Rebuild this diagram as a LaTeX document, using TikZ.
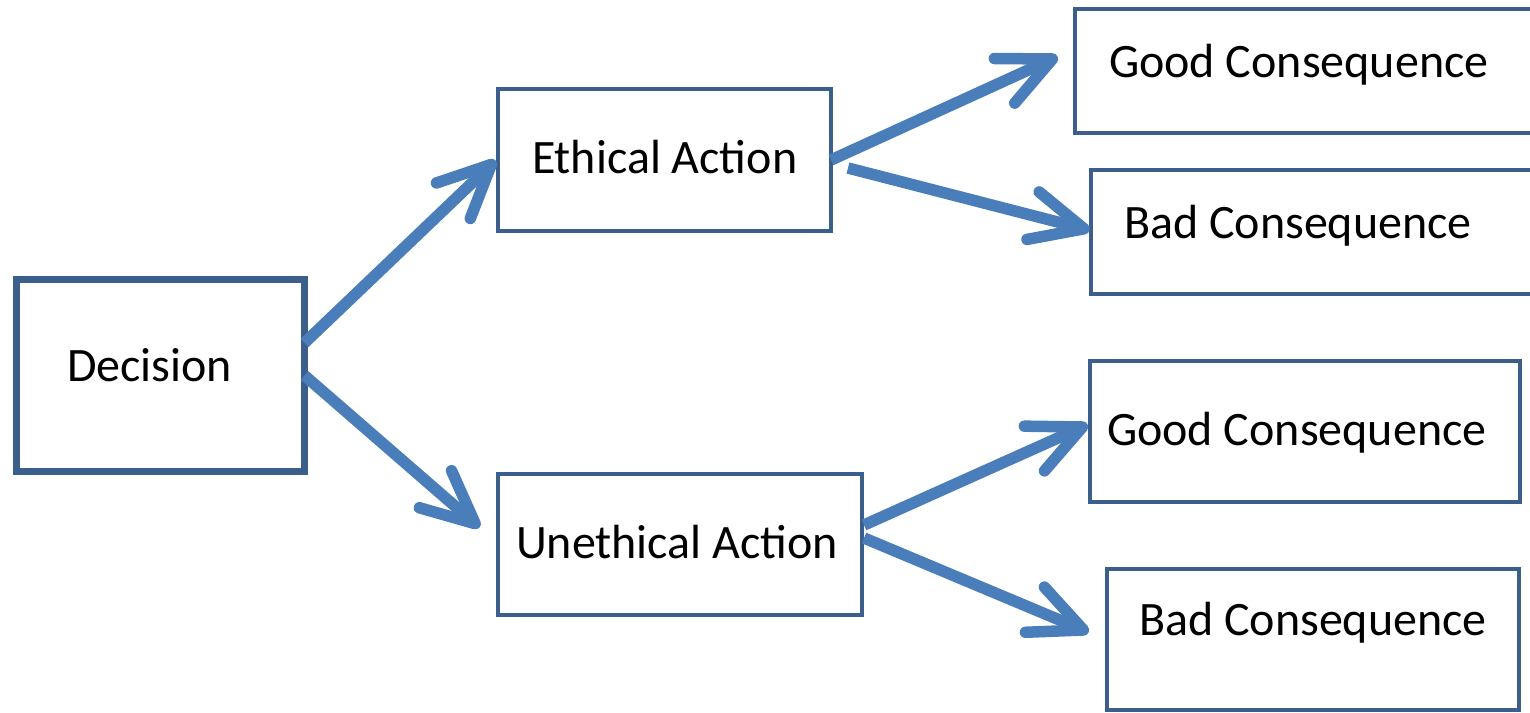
\documentclass[tikz,border=0pt]{standalone}
\usepackage{fontspec}
\setmainfont{Carlito}
\usetikzlibrary{calc}
\definecolor{boxblue}{HTML}{3B5E8C}
\definecolor{arrblue}{HTML}{4A7EBB}
\begin{document}
\begin{tikzpicture}[x=0.5pt,y=-0.5pt,
  box/.style={draw=boxblue, line width=2pt, rectangle, inner sep=0pt, outer sep=0pt, fill=white},
  lbl/.style={anchor=base west, inner sep=0pt, outer sep=0pt, font=\fontsize{24pt}{29pt}\selectfont},
  shaft/.style={draw=arrblue, line width=5.75pt, line cap=butt},
  head/.style={draw=arrblue, line width=5.75pt, line cap=round, line join=round}]
\useasboundingbox (0,0) rectangle (1530,712);
% boxes
\node[box, line width=3.5pt, minimum width=144pt, minimum height=96pt] (dec) at (160.5,375.5) {};
\node[box, minimum width=166.5pt, minimum height=71pt] (eth) at (664.5,160) {};
\node[box, minimum width=182pt, minimum height=70.5pt] (une) at (680,544.5) {};
\node[box, minimum width=232.5pt, minimum height=62pt] (good1) at (1307.5,71) {};
\node[box, minimum width=224.5pt, minimum height=62pt] (bad1) at (1315.5,232) {};
\node[box, minimum width=215pt, minimum height=70.5pt] (good2) at (1305,431.5) {};
\node[box, minimum width=206pt, minimum height=70.5pt] (bad2) at (1313,639.5) {};
% labels
\node[lbl] (tdec) at (67,381) {Decision};
\node[lbl] (teth) at (532,173) {Ethical Action};
\node[lbl] (tune) at (516,558) {Unethical Action};
\node[lbl] (tgood1) at (1109,77) {Good Consequence};
\node[lbl] (tbad1) at (1124,238) {Bad Consequence};
\node[lbl] (tgood2) at (1107,445) {Good Consequence};
\node[lbl] (tbad2) at (1139,635) {Bad Consequence};
% connector end points
\coordinate (s1) at ($(dec.north east)!0.33!(dec.south east)$);
\coordinate (t1) at ($(eth.west)+(-6.6,4.4)$);
\coordinate (s2) at (dec.east);
\coordinate (t2) at ($(une.west)+(-22.8,-20.8)$);
\coordinate (s3) at (eth.east);
\coordinate (t3) at ($(good1.west)+(-22.6,-12)$);
\coordinate (s4) at ($(eth.east)+(17,8)$);
\coordinate (t4) at ($(bad1.west)+(-7,-3.2)$);
\coordinate (s5) at ($(une.east)+(2,-19.5)$);
\coordinate (t5) at ($(good2.west)+(-7.6,-4.5)$);
\coordinate (s6) at ($(une.east)+(2,-6.5)$);
\coordinate (t6) at ($(bad2.west)+(-23.6,-9.5)$);
% arrows
\foreach \i in {1,...,6}{
  \draw[shaft] (s\i) -- (t\i);
  \draw[head] ($(t\i)!29pt!25:(s\i)$) -- (t\i) -- ($(t\i)!29pt!-25:(s\i)$);
}
\end{tikzpicture}
\end{document}
